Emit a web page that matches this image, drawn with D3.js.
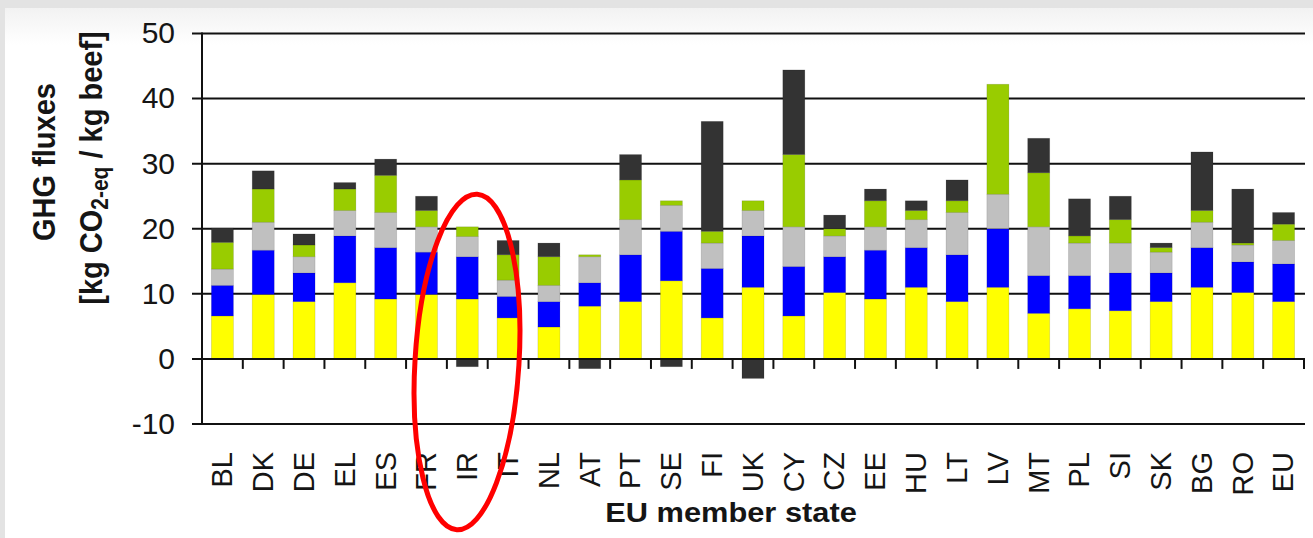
<!DOCTYPE html>
<html>
<head>
<meta charset="utf-8">
<script src="https://cdn.jsdelivr.net/npm/d3@7"></script>
<style>
  body { margin: 0; background: #fff; }
  svg { display: block; }
  text { font-family: "Liberation Sans", Arial, sans-serif; fill: #151515; }
</style>
</head>
<body>
<div class="canvas"></div>
<script>
// data, kg CO2-eq per kg beef, stacked bottom to top
const countries = ['BL','DK','DE','EL','ES','FR','IR','IT','NL','AT','PT','SE','FI','UK',
                   'CY','CZ','EE','HU','LT','LV','MT','PL','SI','SK','BG','RO','EU'];
const yellowVals = [6.6, 9.9, 8.8, 11.7, 9.2, 9.9, 9.2, 6.3, 4.9, 8.1, 8.8, 12.0, 6.3, 11.0,
                    6.6, 10.2, 9.2, 11.0, 8.8, 11.0, 7.0, 7.7, 7.4, 8.8, 11.0, 10.2, 8.8];
const blueVals   = [4.7, 6.8, 4.4, 7.2, 7.9, 6.5, 6.5, 3.3, 3.9, 3.6, 7.2, 7.6, 7.6, 7.9,
                    7.6, 5.5, 7.5, 6.1, 7.2, 9.0, 5.8, 5.1, 5.8, 4.4, 6.1, 4.7, 5.8];
const greyVals   = [2.5, 4.3, 2.5, 3.9, 5.4, 3.9, 3.1, 2.5, 2.5, 4.0, 5.4, 4.0, 3.9, 3.9,
                    6.1, 3.2, 3.6, 4.3, 6.5, 5.3, 7.5, 5.0, 4.6, 3.2, 3.9, 2.6, 3.6];
const greenVals  = [4.1, 5.1, 1.8, 3.3, 5.7, 2.5, 1.5, 3.9, 4.4, 0.3, 6.1, 0.7, 1.8, 1.5,
                    11.1, 1.1, 4.0, 1.4, 1.8, 16.9, 8.3, 1.1, 3.6, 0.7, 1.8, 0.3, 2.5];
const darkVals   = [2.2, 2.8, 1.7, 1.0, 2.5, 2.2, -1.2, 2.2, 2.1, -1.5, 3.9, -1.2, 16.9, -3.0,
                    13.0, 2.1, 1.8, 1.5, 3.2, 0, 5.3, 5.7, 3.6, 0.7, 9.0, 8.3, 1.8];
const yTicks = [-10, 0, 10, 20, 30, 40, 50];

const keys = ['yellow', 'blue', 'grey', 'green', 'dark'];
const colors = { yellow: '#ffff00', blue: '#0000ff', grey: '#c0c0c0', green: '#99cc00', dark: '#333333' };

const table = countries.map((c, i) => ({
  country: c, yellow: yellowVals[i], blue: blueVals[i], grey: greyVals[i],
  green: greenVals[i], dark: darkVals[i]
}));

const width = 1313, height = 538;
const plotLeft = 202, plotRight = 1304, plotTop = 33.5, plotBottom = 424;
const stretch = 'scale(1.1,1)';

const svg = d3.select('.canvas').append('svg')
  .attr('width', width)
  .attr('height', height);

// page frame, grey edge at top and left
const defs = svg.append('defs');
const fade = defs.append('linearGradient').attr('id', 'fade')
  .attr('gradientUnits', 'userSpaceOnUse')
  .attr('x1', 0).attr('y1', 8).attr('x2', 0).attr('y2', 45);
fade.append('stop').attr('offset', 0).attr('stop-color', '#f2f2f2');
fade.append('stop').attr('offset', 1).attr('stop-color', '#ffffff');

svg.append('rect').attr('width', width).attr('height', height).attr('fill', '#e3e3e3');
svg.append('rect').attr('x', 5).attr('y', 8)
  .attr('width', width - 5).attr('height', height - 8).attr('fill', 'url(#fade)');

const x = d3.scaleBand()
  .domain(countries)
  .range([plotLeft, plotRight])
  .paddingInner(0.46)
  .paddingOuter(0.23);

const y = d3.scaleLinear()
  .domain([-10, 50])
  .range([plotBottom, plotTop]);

// gridlines behind the bars
svg.append('g')
  .selectAll('line')
  .data(yTicks.filter(d => d !== 0))
  .join('line')
  .attr('x1', plotLeft - 10)
  .attr('x2', plotRight + 1)
  .attr('y1', d => y(d))
  .attr('y2', d => y(d))
  .attr('stroke', '#111')
  .attr('stroke-width', 2);

const stacked = d3.stack().keys(keys).offset(d3.stackOffsetDiverging)(table);

svg.append('g')
  .selectAll('g')
  .data(stacked)
  .join('g')
  .attr('fill', d => colors[d.key])
  .selectAll('rect')
  .data(d => d)
  .join('rect')
  .attr('x', d => x(d.data.country))
  .attr('width', x.bandwidth())
  .attr('y', d => y(Math.max(d[0], d[1])))
  .attr('height', d => Math.abs(y(d[0]) - y(d[1])))
  .attr('stroke', 'rgba(0,0,0,0.14)')
  .attr('stroke-width', 0.8);

// zero line, category ticks and y axis over the bars
svg.append('line')
  .attr('x1', plotLeft - 10).attr('x2', plotRight + 1)
  .attr('y1', y(0)).attr('y2', y(0))
  .attr('stroke', '#111').attr('stroke-width', 2);

const step = x.step();
svg.append('g')
  .selectAll('line')
  .data(countries)
  .join('line')
  .attr('x1', (d, i) => plotLeft + step * (i + 1))
  .attr('x2', (d, i) => plotLeft + step * (i + 1))
  .attr('y1', y(0))
  .attr('y2', y(0) + 10)
  .attr('stroke', '#111')
  .attr('stroke-width', 2);

svg.append('line')
  .attr('x1', plotLeft).attr('x2', plotLeft)
  .attr('y1', plotTop - 1).attr('y2', plotBottom + 1)
  .attr('stroke', '#111').attr('stroke-width', 2);

// y tick labels
svg.append('g')
  .selectAll('text')
  .data(yTicks)
  .join('text')
  .attr('x', 175)
  .attr('y', d => y(d))
  .attr('dy', '0.33em')
  .attr('text-anchor', 'end')
  .style('font-size', '30px')
  .text(d => d);

// category labels, rotated
svg.append('g')
  .selectAll('text')
  .data(countries)
  .join('text')
  .attr('transform', d => `translate(${x(d) + x.bandwidth() / 2 - 1},452) scale(1.04,1) rotate(-90)`)
  .attr('dy', '0.36em')
  .attr('text-anchor', 'end')
  .style('font-size', '29px')
  .text(d => d);

// axis titles
svg.append('text')
  .attr('transform', `translate(731,522) ${stretch}`)
  .attr('text-anchor', 'middle')
  .style('font-size', '28px')
  .style('font-weight', 'bold')
  .text('EU member state');

svg.append('text')
  .attr('transform', `translate(55,162) ${stretch} rotate(-90)`)
  .attr('text-anchor', 'middle')
  .style('font-size', '29px')
  .style('font-weight', 'bold')
  .text('GHG fluxes');

const unit = svg.append('text')
  .attr('transform', `translate(102,168) ${stretch} rotate(-90)`)
  .attr('text-anchor', 'middle')
  .style('font-size', '29px')
  .style('font-weight', 'bold');
unit.append('tspan').text('[kg CO');
unit.append('tspan').attr('dy', '0.25em').style('font-size', '21px').text('2-eq');
unit.append('tspan').attr('dy', '-0.18em').text(' / kg beef]');

// red highlight round IR
svg.append('ellipse')
  .attr('transform', 'translate(467,362) rotate(3.5)')
  .attr('rx', 52)
  .attr('ry', 168)
  .attr('fill', 'none')
  .attr('stroke', '#ff0000')
  .attr('stroke-width', 5);
</script>
</body>
</html>
